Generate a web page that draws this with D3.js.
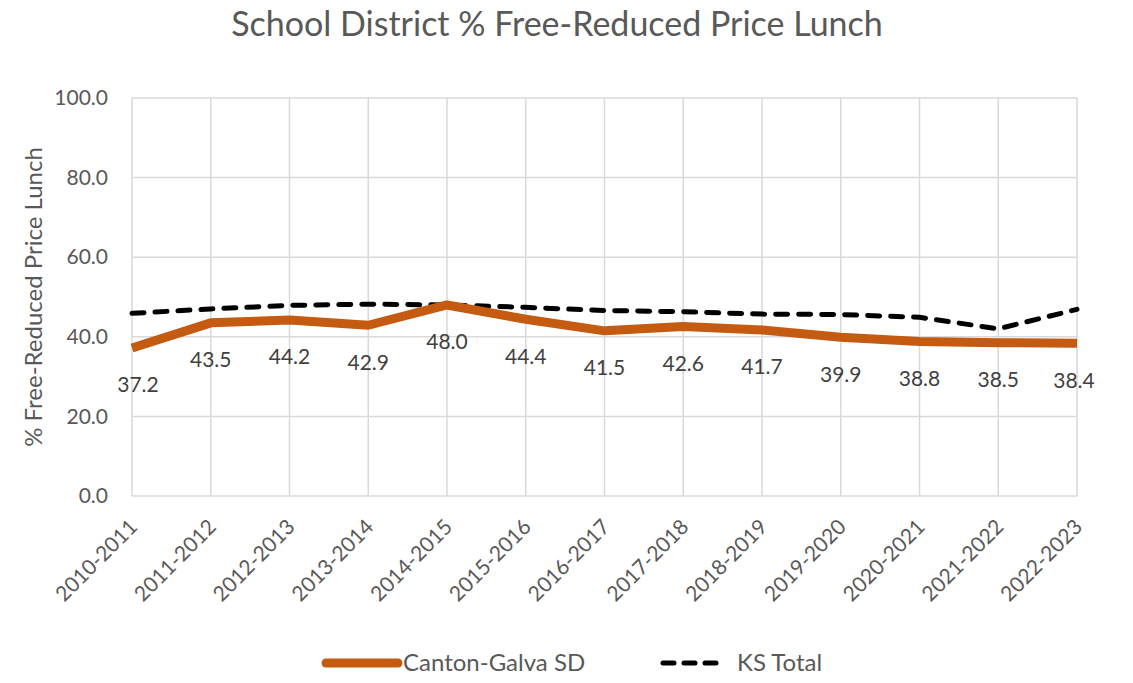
<!DOCTYPE html>
<html>
<head>
<meta charset="utf-8">
<script src="https://cdn.jsdelivr.net/npm/d3@7"></script>
<style>
  body { margin: 0; background: #fff; }
  text { font-family: Lato, "Open Sans", sans-serif; fill: #595959; }
</style>
</head>
<body>
<div id="chart"></div>
<script>
var years = ["2010-2011", "2011-2012", "2012-2013", "2013-2014", "2014-2015", "2015-2016",
  "2016-2017", "2017-2018", "2018-2019", "2019-2020", "2020-2021", "2021-2022", "2022-2023"];
var cantonGalva = [37.2, 43.5, 44.2, 42.9, 48.0, 44.4, 41.5, 42.6, 41.7, 39.9, 38.8, 38.5, 38.4];
var ksTotal = [45.9, 47.0, 47.9, 48.2, 48.0, 47.4, 46.6, 46.3, 45.7, 45.6, 44.9, 42.0, 46.9];
var yTicks = [0, 20, 40, 60, 80, 100];

var width = 1133, height = 683;
var margin = {left: 132, right: 56, top: 98, bottom: 187};

var svg = d3.select("#chart")
    .append("svg")
    .attr("width", width)
    .attr("height", height);

var x = d3.scalePoint()
    .domain(years)
    .range([margin.left, width - margin.right]);

var y = d3.scaleLinear()
    .domain([0, 100])
    .range([height - margin.bottom, margin.top]);

// gridlines
svg.append("g")
    .selectAll("line.h")
    .data(yTicks)
    .enter()
    .append("line")
    .attr("x1", margin.left)
    .attr("x2", width - margin.right)
    .attr("y1", function(d) { return y(d); })
    .attr("y2", function(d) { return y(d); })
    .attr("stroke", "#d9d9d9")
    .attr("stroke-width", 1.5);

svg.append("g")
    .selectAll("line.v")
    .data(years)
    .enter()
    .append("line")
    .attr("x1", function(d) { return x(d); })
    .attr("x2", function(d) { return x(d); })
    .attr("y1", y(100))
    .attr("y2", y(0))
    .attr("stroke", "#d9d9d9")
    .attr("stroke-width", 1.5);

// y axis
var yAxis = svg.append("g")
    .attr("transform", "translate(" + margin.left + ",0)")
    .call(d3.axisLeft(y).tickValues(yTicks).tickFormat(d3.format(".1f")).tickSize(0).tickPadding(24));
yAxis.select(".domain").remove();
yAxis.selectAll("text")
    .style("font-size", "21px")
    .style("fill", "#595959")
    .style("font-family", "Lato, 'Open Sans', sans-serif");

// x axis
var xAxis = svg.append("g")
    .attr("transform", "translate(0," + y(0) + ")")
    .call(d3.axisBottom(x).tickSize(0));
xAxis.select(".domain").remove();
xAxis.selectAll("text")
    .style("font-size", "21px")
    .style("fill", "#595959")
    .style("font-family", "Lato, 'Open Sans', sans-serif")
    .attr("text-anchor", "end")
    .attr("dy", "0.35em")
    .attr("transform", "translate(1,27) rotate(-45)")
    .attr("y", 0)
    .attr("x", 0);

// lines
var line = d3.line()
    .x(function(d, i) { return x(years[i]); })
    .y(function(d) { return y(d); });

svg.append("path")
    .datum(ksTotal)
    .attr("d", line)
    .attr("fill", "none")
    .attr("stroke", "#000")
    .attr("stroke-width", 5)
    .attr("stroke-dasharray", "12,11")
    .attr("stroke-linecap", "round")
    .attr("stroke-linejoin", "round");

svg.append("path")
    .datum(cantonGalva)
    .attr("d", line)
    .attr("fill", "none")
    .attr("stroke", "#c55a11")
    .attr("stroke-width", 9)
    .attr("stroke-linejoin", "round");

// data labels
svg.append("g")
    .selectAll("text")
    .data(cantonGalva)
    .enter()
    .append("text")
    .attr("x", function(d, i) {
        var px = x(years[i]);
        if (i === 0) px += 6;
        if (i === years.length - 1) px -= 3;
        return px;
    })
    .attr("y", function(d) { return y(d) + 37; })
    .attr("dy", "0.35em")
    .attr("text-anchor", "middle")
    .style("font-size", "21px")
    .style("fill", "#404040")
    .text(function(d) { return d.toFixed(1); });

// title
svg.append("text")
    .attr("x", 557)
    .attr("y", 24)
    .attr("dy", "0.35em")
    .attr("text-anchor", "middle")
    .style("font-size", "34px")
    .text("School District % Free-Reduced Price Lunch");

// y axis title
svg.append("text")
    .attr("transform", "translate(34," + ((y(0) + y(100)) / 2) + ") rotate(-90)")
    .attr("dy", "0.35em")
    .attr("text-anchor", "middle")
    .style("font-size", "24px")
    .text("% Free-Reduced Price Lunch");

// legend
var legend = svg.append("g").attr("transform", "translate(0,663)");
legend.append("line")
    .attr("x1", 326).attr("x2", 398)
    .attr("y1", 0).attr("y2", 0)
    .attr("stroke", "#c55a11")
    .attr("stroke-width", 9)
    .attr("stroke-linecap", "round");
legend.append("text")
    .attr("x", 403).attr("dy", "0.35em")
    .style("font-size", "24px")
    .text("Canton-Galva SD");
legend.append("line")
    .attr("x1", 663).attr("x2", 716)
    .attr("y1", 0).attr("y2", 0)
    .attr("stroke", "#000")
    .attr("stroke-width", 5)
    .attr("stroke-dasharray", "11,10")
    .attr("stroke-linecap", "round");
legend.append("text")
    .attr("x", 737).attr("dy", "0.35em")
    .style("font-size", "24px")
    .text("KS Total");
</script>
</body>
</html>
